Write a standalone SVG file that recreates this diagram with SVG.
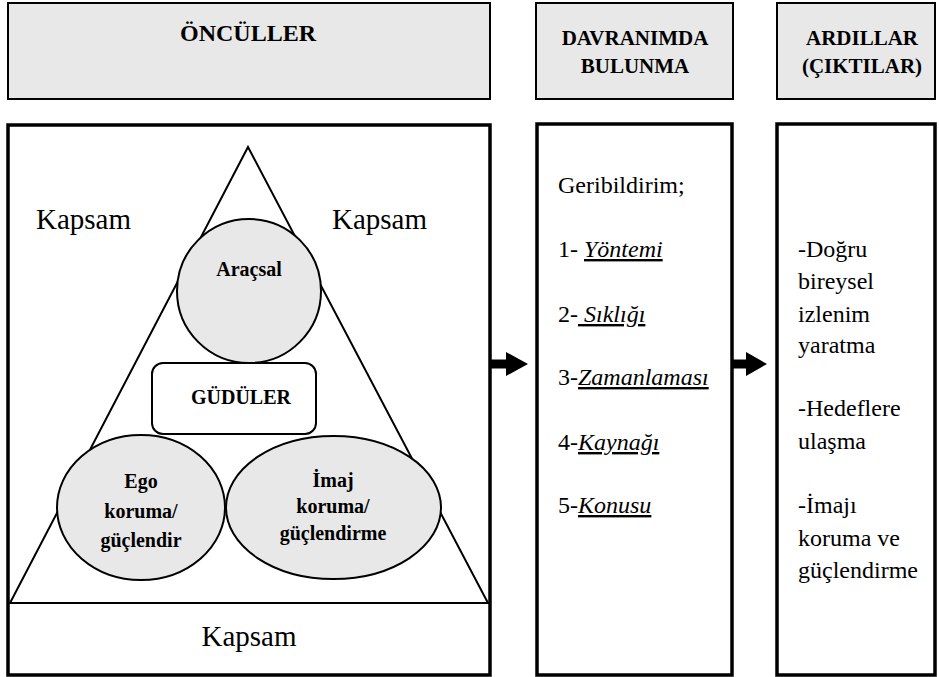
<svg xmlns="http://www.w3.org/2000/svg" width="939" height="677" viewBox="0 0 939 677" font-family="'Liberation Serif', serif">
<style>
.hdr{fill:#e8e8e8;stroke:#000;stroke-width:2}
.box{fill:#fff;stroke:#000;stroke-width:3.5}
.shape{fill:#e8e8e8;stroke:#000;stroke-width:2}
.line{fill:none;stroke:#000;stroke-width:2}
.ht{font-weight:bold;text-anchor:middle;fill:#000}
.nt{font-weight:bold;font-size:20px;text-anchor:middle;fill:#000}
.kt{font-size:29px;fill:#000}
.bt{font-size:24px;fill:#000}
.it{font-style:italic;text-decoration:underline}
.arrow{fill:#000;stroke:none}
</style>
<g id="header-onculler">
<rect class="hdr" x="8" y="3" width="482" height="96"/>
<text class="ht" x="248" y="41" font-size="24">ÖNCÜLLER</text>
</g>
<g id="header-davranim">
<rect class="hdr" x="536" y="3" width="197" height="96"/>
<text class="ht" x="635" y="45" font-size="21">DAVRANIMDA</text>
<text class="ht" x="635" y="73" font-size="21">BULUNMA</text>
</g>
<g id="header-ardillar">
<rect class="hdr" x="777" y="3" width="158" height="96"/>
<text class="ht" x="862" y="45" font-size="21">ARDILLAR</text>
<text class="ht" x="862" y="73" font-size="21">(ÇIKTILAR)</text>
</g>
<g id="box-onculler">
<rect class="box" x="8" y="125" width="482" height="550"/>
<line class="line" x1="8" y1="603" x2="490" y2="603"/>
<text class="kt" x="36" y="229">Kapsam</text>
<text class="kt" x="332" y="229">Kapsam</text>
<text class="kt" x="249" y="646" text-anchor="middle">Kapsam</text>
</g>
<g id="pyramid">
<polygon class="line" points="248,147 488,603 10,603"/>
</g>
<g id="node-aracsal">
<circle class="shape" cx="249" cy="291" r="72"/>
<text class="nt" x="249" y="276">Araçsal</text>
</g>
<g id="node-guduler">
<rect x="152" y="363" width="164" height="71" rx="11" fill="#fff" stroke="#000" stroke-width="2"/>
<text class="nt" x="241" y="404">GÜDÜLER</text>
</g>
<g id="node-ego">
<ellipse class="shape" cx="141" cy="507.5" rx="84" ry="72.5"/>
<text class="nt" x="141" y="488">Ego</text>
<text class="nt" x="141" y="518">koruma/</text>
<text class="nt" x="141" y="547">güçlendir</text>
</g>
<g id="node-imaj">
<ellipse class="shape" cx="333.5" cy="507.5" rx="107.5" ry="71.5"/>
<text class="nt" x="333" y="487">İmaj</text>
<text class="nt" x="333" y="513">koruma/</text>
<text class="nt" x="333" y="540">güçlendirme</text>
</g>
<g id="box-davranim">
<rect class="box" x="537" y="124" width="195" height="551"/>
<text class="bt" x="558" y="193">Geribildirim;</text>
<text class="bt" x="558" y="257">1- <tspan class="it">Yöntemi</tspan></text>
<text class="bt" x="558" y="322">2-<tspan class="it"> Sıklığı</tspan></text>
<text class="bt" x="558" y="385">3-<tspan class="it">Zamanlaması</tspan></text>
<text class="bt" x="558" y="450">4-<tspan class="it">Kaynağı</tspan></text>
<text class="bt" x="558" y="513">5-<tspan class="it">Konusu</tspan></text>
</g>
<g id="box-ardillar">
<rect class="box" x="777" y="124" width="158" height="551"/>
<text class="bt" x="798" y="257">-Doğru</text>
<text class="bt" x="798" y="289">bireysel</text>
<text class="bt" x="798" y="322">izlenim</text>
<text class="bt" x="798" y="353">yaratma</text>
<text class="bt" x="798" y="416">-Hedeflere</text>
<text class="bt" x="798" y="449">ulaşma</text>
<text class="bt" x="798" y="513">-İmajı</text>
<text class="bt" x="798" y="546">koruma ve</text>
<text class="bt" x="798" y="578">güçlendirme</text>
</g>
<g id="connectors">
<path class="arrow" d="M490,359.5 H506 V352 L528,364 L506,376 V368.5 H490 Z"/>
<path class="arrow" d="M732,359.5 H746 V352 L767,364 L746,376 V368.5 H732 Z"/>
</g>
</svg>
